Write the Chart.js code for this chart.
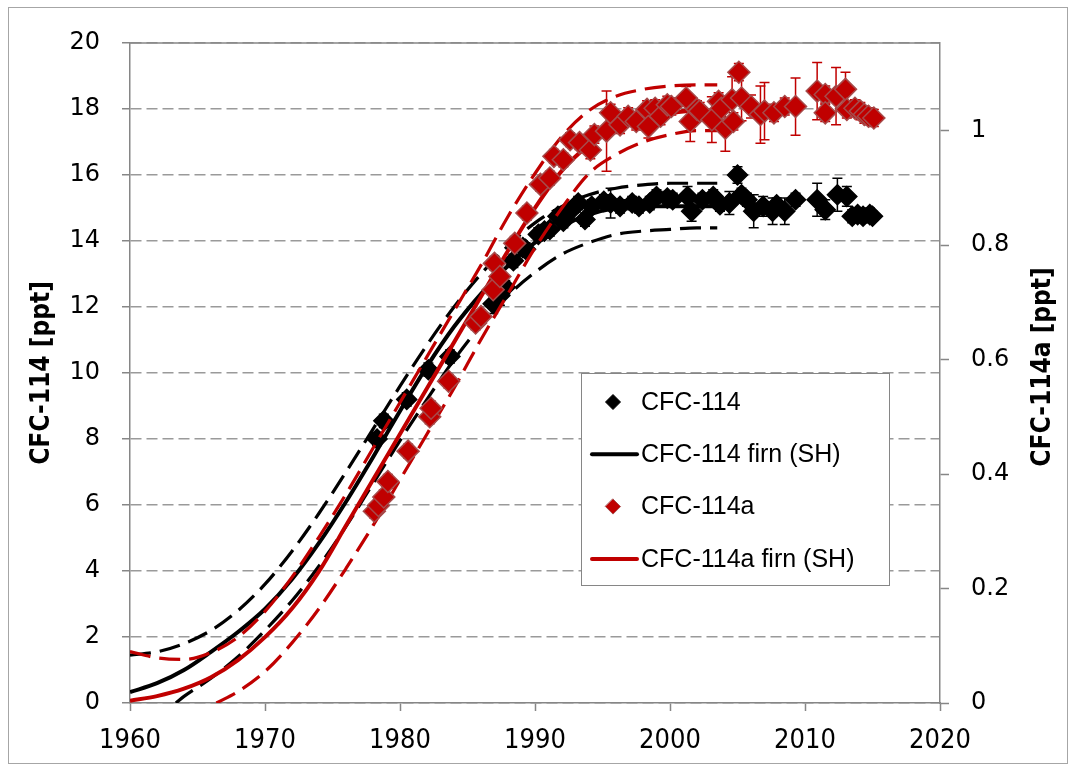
<!DOCTYPE html>
<html>
<head>
<meta charset="utf-8">
<script src="https://cdn.jsdelivr.net/npm/chart.js@4.4.1/dist/chart.umd.min.js"></script>
<style>
  html, body { margin: 0; padding: 0; background: #fff; }
  #chart { display: block; }
</style>
</head>
<body>
<canvas id="chart" width="1076" height="771"></canvas>
<script>
// tick values
const yearTicks = [1960, 1970, 1980, 1990, 2000, 2010, 2020]
const cfc114Ticks = [0, 2, 4, 6, 8, 10, 12, 14, 16, 18, 20]
const cfc114aTicks = [0, 0.2, 0.4, 0.6, 0.8, 1]

// CFC-114 measurements [ppt]
const cfc114Years = [1978.3, 1978.8, 1980.5, 1982.1, 1983.7, 1986.9, 1987.4, 1987.8, 1988.4, 1989.1,
  1989.3, 1990.25, 1990.7, 1991.1, 1991.7, 1992.1, 1992.6, 1993.2, 1993.7, 1994.2,
  1995.1, 1995.6, 1996.3, 1997.2, 1997.7, 1998.5, 1999.0, 1999.8, 2000.2, 2001.3,
  2001.6, 2002.4, 2003.2, 2003.7, 2004.4, 2005.0, 2005.3, 2005.7, 2006.2, 2006.9,
  2007.6, 2007.9, 2008.5, 2009.3, 2010.9, 2011.5, 2012.4, 2013.1, 2013.5, 2013.9,
  2014.3, 2014.8, 2015.0]
const cfc114Values = [8.0, 8.55, 9.2, 10.1, 10.5, 12.1, 12.35, 12.6, 13.4, 13.8,
  13.75, 14.2, 14.3, 14.35, 14.75, 14.6, 14.9, 15.15, 14.65, 15.05,
  15.2, 15.15, 15.05, 15.15, 15.05, 15.15, 15.35, 15.3, 15.25, 15.35,
  14.9, 15.25, 15.35, 15.1, 15.15, 16.0, 15.4, 15.25, 14.9, 15.05,
  14.9, 15.1, 14.9, 15.25, 15.25, 14.95, 15.4, 15.35, 14.75, 14.8,
  14.75, 14.8, 14.75]
const cfc114Errors = [0.2, 0.2, 0.2, 0.2, 0.2, 0.3, 0.3, 0.2, 0.2, 0.2,
  0.2, 0.2, 0.2, 0.2, 0.2, 0.2, 0.2, 0.2, 0.2, 0.2,
  0.2, 0.45, 0.2, 0.2, 0.2, 0.2, 0.2, 0.2, 0.2, 0.3,
  0.3, 0.2, 0.2, 0.2, 0.35, 0.25, 0.2, 0.2, 0.5, 0.3,
  0.4, 0.2, 0.4, 0.2, 0.5, 0.3, 0.5, 0.3, 0.2, 0.2,
  0.2, 0.2, 0.15]

// CFC-114a measurements [ppt]
const cfc114aYears = [1978.1, 1978.4, 1978.8, 1979.1, 1980.6, 1982.2, 1982.3, 1983.6, 1985.6, 1986.0,
  1986.9, 1987.0, 1987.4, 1988.5, 1989.4, 1990.4, 1991.1, 1991.4, 1992.1, 1992.6,
  1993.3, 1994.1, 1994.4, 1995.3, 1995.6, 1996.3, 1996.9, 1997.5, 1998.3, 1998.4,
  1998.9, 1999.3, 1999.8, 2000.1, 2001.2, 2001.5, 2002.0, 2002.2, 2003.1, 2003.6,
  2003.8, 2004.1, 2004.6, 2004.7, 2005.1, 2005.3, 2006.0, 2006.7, 2007.0, 2007.7,
  2008.5, 2009.3, 2010.9, 2011.5, 2011.5, 2012.3, 2013.0, 2013.1, 2013.7, 2014.1,
  2014.4, 2014.7, 2015.1]
const cfc114aValues = [0.335, 0.345, 0.36, 0.387, 0.44, 0.5, 0.515, 0.562, 0.664, 0.675,
  0.722, 0.768, 0.745, 0.803, 0.856, 0.906, 0.917, 0.955, 0.949, 0.984,
  0.979, 0.966, 0.993, 0.999, 1.031, 1.01, 1.025, 1.016, 1.037, 1.007,
  1.039, 1.025, 1.045, 1.042, 1.057, 1.016, 1.037, 1.034, 1.019, 1.051,
  1.039, 1.004, 1.054, 1.016, 1.102, 1.057, 1.042, 1.028, 1.034, 1.031,
  1.042, 1.042, 1.069, 1.063, 1.031, 1.06, 1.072, 1.037, 1.039, 1.034,
  1.028, 1.025, 1.022]
const cfc114aErrors = [0.012, 0.012, 0.012, 0.012, 0.012, 0.012, 0.012, 0.012, 0.012, 0.012,
  0.012, 0.012, 0.012, 0.012, 0.012, 0.012, 0.012, 0.012, 0.012, 0.012,
  0.012, 0.015, 0.015, 0.07, 0.015, 0.015, 0.015, 0.015, 0.015, 0.02,
  0.015, 0.015, 0.015, 0.015, 0.02, 0.035, 0.015, 0.015, 0.04, 0.015,
  0.015, 0.04, 0.04, 0.015, 0.015, 0.04, 0.02, 0.05, 0.05, 0.015,
  0.015, 0.05, 0.05, 0.015, 0.015, 0.05, 0.03, 0.015, 0.015, 0.015,
  0.015, 0.015, 0.015]

// firn model histories (SH)
const firnYears = [1960, 1962, 1964, 1966, 1968, 1970, 1972, 1974, 1976, 1978, 1980, 1982,
  1984, 1986, 1988, 1990, 1992, 1994, 1996, 1998, 2000, 2002, 2003.5]
const cfc114Firn = [0.33, 0.6, 1.0, 1.55, 2.15, 2.85, 3.75, 4.85, 6.1, 7.45, 8.85, 10.2,
  11.4, 12.4, 13.25, 13.95, 14.45, 14.8, 15.0, 15.05, 15.05, 15.05, 15.05]
const cfc114FirnHigh = [1.45, 1.55, 1.8, 2.2, 2.8, 3.6, 4.6, 5.75, 7.0, 8.3, 9.6, 10.85,
  12.0, 13.0, 13.85, 14.55, 15.05, 15.4, 15.6, 15.7, 15.75, 15.75, 15.75]
const cfc114FirnLowYears = [1963.4, 1964, 1966, 1968, 1970, 1972, 1974, 1976, 1978, 1980, 1982,
  1984, 1986, 1988, 1990, 1992, 1994, 1996, 1998, 2000, 2002, 2003.5]
const cfc114FirnLow = [0, 0.2, 0.75, 1.4, 2.2, 3.1, 4.15, 5.35, 6.65, 7.95, 9.2,
  10.4, 11.45, 12.35, 13.05, 13.6, 13.95, 14.2, 14.3, 14.35, 14.4, 14.4]
const cfc114aFirn = [0.004, 0.012, 0.025, 0.045, 0.075, 0.115, 0.165, 0.23, 0.31, 0.39, 0.47, 0.55,
  0.63, 0.71, 0.79, 0.865, 0.93, 0.975, 1.005, 1.02, 1.03, 1.035, 1.035]
const cfc114aFirnHigh = [0.09, 0.079, 0.076, 0.088, 0.115, 0.16, 0.22, 0.29, 0.365, 0.445, 0.525, 0.605,
  0.685, 0.765, 0.85, 0.925, 0.99, 1.035, 1.06, 1.072, 1.078, 1.08, 1.08]
const cfc114aFirnLowYears = [1966.4, 1968, 1970, 1972, 1974, 1976, 1978, 1980, 1982, 1984,
  1986, 1988, 1990, 1992, 1994, 1996, 1998, 2000, 2002, 2003.5]
const cfc114aFirnLow = [0, 0.02, 0.055, 0.105, 0.165, 0.235, 0.31, 0.39, 0.47, 0.55,
  0.635, 0.715, 0.795, 0.865, 0.925, 0.958, 0.98, 0.993, 1.0, 1.0]

const RED = '#c00000'
const RED_EDGE = '#a64b4b'
const AXIS_GREY = '#868686'
const GRID_GREY = '#9a9a9a'
const DASH = [21, 9]
const narrowFont = "'Liberation Sans Narrow', 'DejaVu Sans Condensed', sans-serif"
const titleFont = "'DejaVu Sans Condensed', 'Liberation Sans Narrow', sans-serif"

const toPoints = (xs, ys) => xs.map((x, i) => ({ x, y: ys[i] }))

function markers (label, years, values, axis, fill, border, radius) {
  return {
    label,
    data: toPoints(years, values),
    yAxisID: axis,
    showLine: false,
    pointStyle: 'rectRot',
    pointRadius: radius,
    pointBackgroundColor: fill,
    pointBorderColor: border,
    pointBorderWidth: 1.5
  }
}

function curve (label, years, values, axis, color, width, dash) {
  return {
    label,
    data: toPoints(years, values),
    yAxisID: axis,
    showLine: true,
    borderColor: color,
    borderWidth: width,
    borderDash: dash,
    pointRadius: 0,
    cubicInterpolationMode: 'monotone',
    fill: false
  }
}

// error bars drawn under the markers, positioned by the chart scales
const errorBars = {
  id: 'errorBars',
  beforeDatasetsDraw (chart) {
    const { ctx, chartArea } = chart
    const xs = chart.scales.x
    const draw = (years, values, errs, ys, color) => {
      ctx.save()
      ctx.beginPath()
      ctx.rect(chartArea.left, chartArea.top, chartArea.right - chartArea.left, chartArea.bottom - chartArea.top)
      ctx.clip()
      ctx.strokeStyle = color
      ctx.lineWidth = 1.5
      years.forEach((yr, i) => {
        const px = xs.getPixelForValue(yr)
        const top = ys.getPixelForValue(values[i] + errs[i])
        const bot = ys.getPixelForValue(values[i] - errs[i])
        ctx.beginPath()
        ctx.moveTo(px, top); ctx.lineTo(px, bot)
        ctx.moveTo(px - 5, top); ctx.lineTo(px + 5, top)
        ctx.moveTo(px - 5, bot); ctx.lineTo(px + 5, bot)
        ctx.stroke()
      })
      ctx.restore()
    }
    draw(cfc114Years, cfc114Values, cfc114Errors, chart.scales.y, '#000')
    draw(cfc114aYears, cfc114aValues, cfc114aErrors, chart.scales.y2, RED)
  }
}

// plot frame, outer border, right axis title and legend box
const decorations = {
  id: 'decorations',
  afterDraw (chart) {
    const { ctx, chartArea: a } = chart
    ctx.save()
    ctx.strokeStyle = AXIS_GREY
    ctx.lineWidth = 1.5
    ctx.beginPath()
    ctx.moveTo(a.left, a.top); ctx.lineTo(a.right, a.top)
    ctx.stroke()

    ctx.strokeStyle = '#a6a6a6'
    ctx.lineWidth = 1
    ctx.strokeRect(8.5, 7.5, 1059, 756)

    ctx.fillStyle = '#000'
    ctx.font = 'bold 26px ' + titleFont
    ctx.textAlign = 'center'
    ctx.textBaseline = 'middle'
    ctx.translate(1043, 367)
    ctx.rotate(-Math.PI / 2)
    ctx.fillText('CFC-114a [ppt]', 0, 0)
    ctx.restore()

    // legend
    ctx.save()
    const bx = 581
    const by = 373
    ctx.fillStyle = '#fff'
    ctx.fillRect(bx, by, 308, 212)
    ctx.strokeStyle = AXIS_GREY
    ctx.lineWidth = 1
    ctx.strokeRect(bx + 0.5, by + 0.5, 308, 212)
    const rows = [
      { text: 'CFC-114', type: 'marker', fill: '#000', border: '#000' },
      { text: 'CFC-114 firn (SH)', type: 'line', color: '#000' },
      { text: 'CFC-114a', type: 'marker', fill: RED, border: RED_EDGE },
      { text: 'CFC-114a firn (SH)', type: 'line', color: RED }
    ]
    ctx.font = "25px 'Liberation Sans', Arial, sans-serif"
    ctx.textBaseline = 'middle'
    ctx.textAlign = 'left'
    rows.forEach((r, i) => {
      const cy = by + 29 + i * 52.3
      if (r.type === 'marker') {
        ctx.beginPath()
        ctx.moveTo(613, cy - 7.5); ctx.lineTo(620.5, cy); ctx.lineTo(613, cy + 7.5); ctx.lineTo(605.5, cy)
        ctx.closePath()
        ctx.fillStyle = r.fill
        ctx.fill()
        ctx.strokeStyle = r.border
        ctx.lineWidth = 1
        ctx.stroke()
      } else {
        ctx.strokeStyle = r.color
        ctx.lineWidth = 4
        ctx.lineCap = 'round'
        ctx.beginPath()
        ctx.moveTo(592, cy); ctx.lineTo(637, cy)
        ctx.stroke()
      }
      ctx.fillStyle = '#000'
      ctx.fillText(r.text, 641, cy + 1)
    })
    ctx.restore()
  }
}

const setTicks = values => scale => { scale.ticks = values.map(v => ({ value: v })) }

// eslint-disable-next-line no-unused-vars, no-undef
const chart = new Chart(document.querySelector('#chart'), {
  type: 'scatter',
  data: {
    datasets: [
      markers('CFC-114a', cfc114aYears, cfc114aValues, 'y2', RED, RED_EDGE, 11),
      curve('CFC-114a firn (SH)', firnYears, cfc114aFirn, 'y2', RED, 4, []),
      curve('CFC-114a firn high', firnYears, cfc114aFirnHigh, 'y2', RED, 3.2, DASH),
      curve('CFC-114a firn low', cfc114aFirnLowYears, cfc114aFirnLow, 'y2', RED, 3.2, DASH),
      markers('CFC-114', cfc114Years, cfc114Values, 'y', '#000', '#000', 10),
      curve('CFC-114 firn (SH)', firnYears, cfc114Firn, 'y', '#000', 4, []),
      curve('CFC-114 firn high', firnYears, cfc114FirnHigh, 'y', '#000', 3.2, DASH),
      curve('CFC-114 firn low', cfc114FirnLowYears, cfc114FirnLow, 'y', '#000', 3.2, DASH)
    ]
  },
  options: {
    responsive: false,
    animation: false,
    devicePixelRatio: 1,
    layout: { padding: { top: 43, left: 0, right: 0, bottom: 0 } },
    plugins: {
      legend: { display: false },
      tooltip: { enabled: false }
    },
    scales: {
      x: {
        type: 'linear',
        position: 'bottom',
        min: 1960,
        max: 2020,
        afterBuildTicks: setTicks(yearTicks),
        afterFit: s => { s.height = 68 },
        grid: { drawOnChartArea: false, drawTicks: true, tickLength: 8, tickColor: AXIS_GREY, tickWidth: 1.5 },
        border: { color: AXIS_GREY, width: 1.5 },
        ticks: { color: '#000', padding: 14, font: { family: narrowFont, size: 27 }, callback: v => String(v) }
      },
      y: {
        type: 'linear',
        position: 'left',
        min: 0,
        max: 20,
        afterBuildTicks: setTicks(cfc114Ticks),
        afterFit: s => { s.width = 130 },
        grid: { color: GRID_GREY, lineWidth: 1.5, drawTicks: true, tickLength: 8, tickColor: AXIS_GREY, tickWidth: 1.5, tickBorderDash: [] },
        border: { color: AXIS_GREY, width: 1.5, dash: [11, 5] },
        ticks: { color: '#000', padding: 22, font: { family: "'DejaVu Sans', sans-serif", size: 24 } },
        title: {
          display: true,
          text: 'CFC-114 [ppt]',
          color: '#000',
          padding: { top: 27, bottom: 0 },
          font: { family: titleFont, size: 26, weight: 'bold' }
        }
      },
      y2: {
        type: 'linear',
        position: 'right',
        min: 0,
        max: 1.153,
        afterBuildTicks: setTicks(cfc114aTicks),
        afterFit: s => { s.width = 136 },
        grid: { drawOnChartArea: false, drawTicks: true, tickLength: 9, tickColor: AXIS_GREY, tickWidth: 1.5 },
        border: { color: AXIS_GREY, width: 1.5 },
        ticks: { color: '#000', padding: 22, font: { family: "'DejaVu Sans', sans-serif", size: 24 }, callback: v => String(Math.round(v * 10) / 10) }
      }
    }
  },
  plugins: [errorBars, decorations]
})
</script>
</body>
</html>
